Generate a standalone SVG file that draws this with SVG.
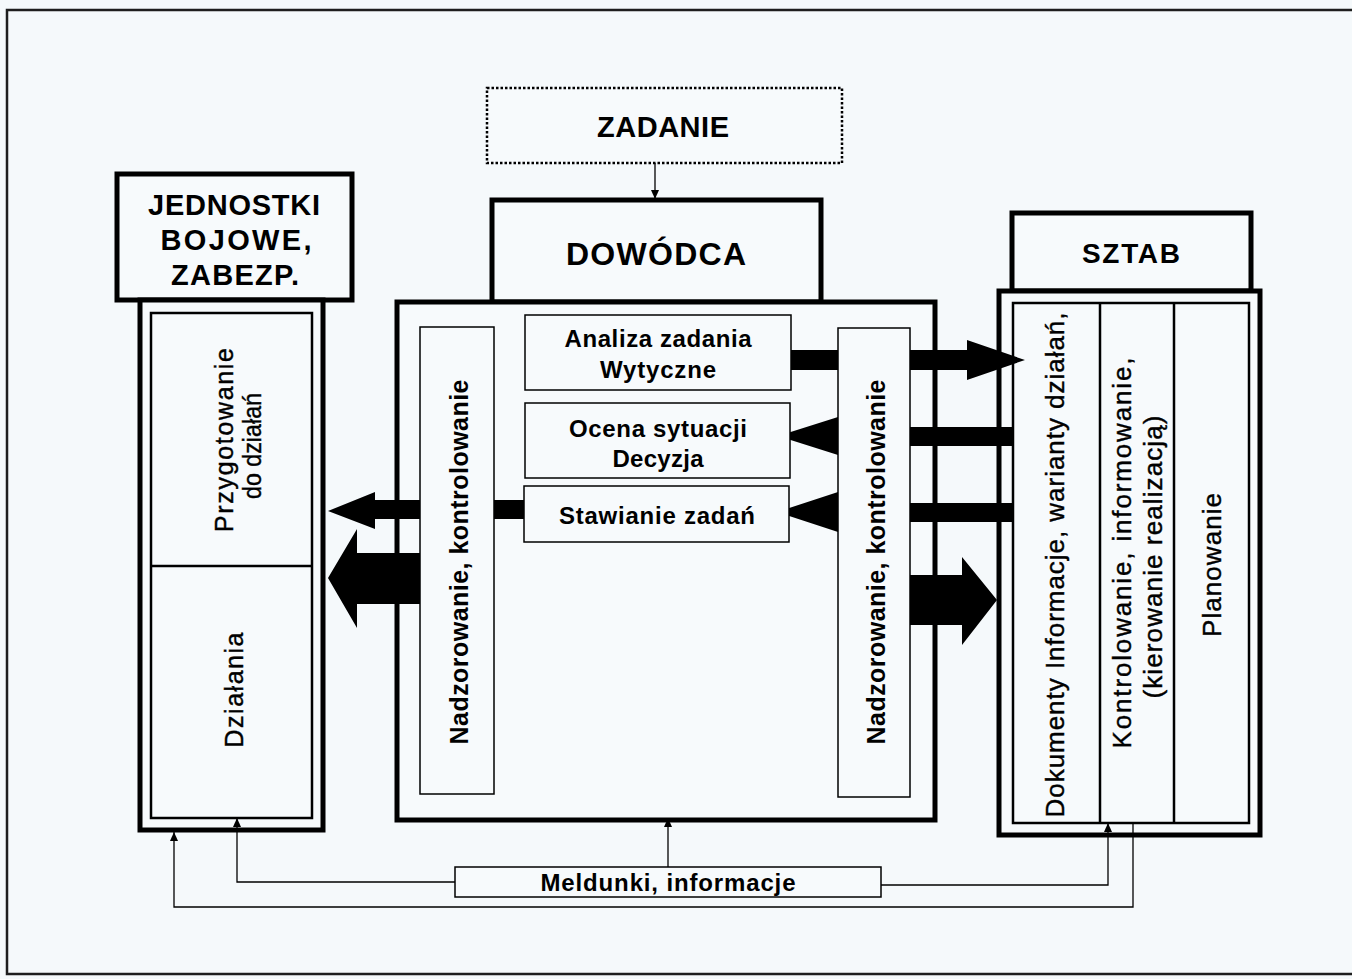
<svg xmlns="http://www.w3.org/2000/svg" width="1352" height="979" viewBox="0 0 1352 979">
  <style>
    .page { fill: #f5f9fb; }
    .frame { fill: none; stroke: #1e1e1e; stroke-width: 2.5; }
    .head { fill: #f7fafc; stroke: #000; stroke-width: 5; }
    .box { fill: #f7fafc; stroke: #000; stroke-width: 5; }
    .inner { fill: #f7fafc; stroke: #000; stroke-width: 2.5; }
    .thin { fill: #f7fafc; stroke: #000; stroke-width: 1.5; }
    .dotted { fill: #f7fafc; stroke: #000; stroke-width: 2.5; stroke-dasharray: 2.5 2; }
    .div { stroke: #000; stroke-width: 2.5; }
    .flow { fill: #000; }
    .wire { fill: none; stroke: #000; stroke-width: 1.3; }
    .t { font-family: "Liberation Sans", Arial, sans-serif; fill: #000; }
    .b { font-weight: bold; }
    .r { stroke: #000; stroke-width: 0.4; }
  </style>
  <defs>
    <marker id="tip" markerUnits="userSpaceOnUse" markerWidth="9" markerHeight="8" refX="9" refY="4" orient="auto">
      <path d="M0,0 L9,4 L0,8 Z" fill="#000"/>
    </marker>
  </defs>

  <!-- page and frame -->
  <rect class="page" x="0" y="0" width="1352" height="979"/>
  <rect class="frame" x="7" y="10" width="1360" height="964"/>

  <!-- task box -->
  <g id="zadanie">
    <rect class="dotted" x="487" y="88" width="355" height="75"/>
    <text class="t b" x="663" y="137" font-size="29" text-anchor="middle" textLength="132" lengthAdjust="spacing">ZADANIE</text>
  </g>

  <!-- combat units -->
  <g id="jednostki">
    <rect class="head" x="117" y="174" width="235" height="126"/>
    <text class="t b" x="234" y="215" font-size="29" text-anchor="middle" textLength="172" lengthAdjust="spacing">JEDNOSTKI</text>
    <text class="t b" x="236" y="250" font-size="29" text-anchor="middle" textLength="151" lengthAdjust="spacing">BOJOWE,</text>
    <text class="t b" x="235" y="285" font-size="29" text-anchor="middle" textLength="128" lengthAdjust="spacing">ZABEZP.</text>
    <rect class="box" x="140" y="300" width="183" height="530"/>
    <rect class="inner" x="151" y="313" width="161" height="505"/>
    <line class="div" x1="151" y1="566" x2="312" y2="566"/>
    <text class="t r" font-size="25" text-anchor="middle" dy="9" textLength="184" lengthAdjust="spacing" transform="translate(224,440) rotate(-90)">Przygotowanie</text>
    <text class="t r" font-size="25" text-anchor="middle" dy="9" textLength="106" lengthAdjust="spacingAndGlyphs" transform="translate(252,446) rotate(-90)">do działań</text>
    <text class="t r" font-size="25" text-anchor="middle" dy="9" textLength="115" lengthAdjust="spacing" transform="translate(234,690) rotate(-90)">Działania</text>
  </g>

  <!-- commander -->
  <g id="dowodca">
    <rect class="head" x="492" y="200" width="329" height="102"/>
    <text class="t b" x="656" y="265" font-size="32" text-anchor="middle" textLength="180" lengthAdjust="spacing">DOWÓDCA</text>
    <rect class="box" x="397" y="302" width="538" height="518"/>
  </g>

  <!-- staff -->
  <g id="sztab">
    <rect class="head" x="1012" y="213" width="239" height="78"/>
    <text class="t b" x="1131" y="263" font-size="28" text-anchor="middle" textLength="98" lengthAdjust="spacing">SZTAB</text>
    <rect class="box" x="999" y="291" width="261" height="544"/>
    <rect class="inner" x="1013" y="303" width="236" height="520"/>
    <line class="div" x1="1100" y1="303" x2="1100" y2="823"/>
    <line class="div" x1="1174" y1="303" x2="1174" y2="823"/>
    <text class="t r" font-size="26" text-anchor="middle" dy="9.5" textLength="505" lengthAdjust="spacing" transform="translate(1054,565) rotate(-90)">Dokumenty Informacje, warianty działań,</text>
    <text class="t r" font-size="26" text-anchor="middle" dy="9.5" textLength="391" lengthAdjust="spacing" transform="translate(1121,553) rotate(-90)">Kontrolowanie, informowanie,</text>
    <text class="t r" font-size="26" text-anchor="middle" dy="9.5" textLength="283" lengthAdjust="spacing" transform="translate(1152,557) rotate(-90)">(kierowanie realizacją)</text>
    <text class="t r" font-size="26" text-anchor="middle" dy="9.5" textLength="144" lengthAdjust="spacing" transform="translate(1211,565) rotate(-90)">Planowanie</text>
  </g>

  <!-- flows between commander, staff and units -->
  <g id="connectors">
    <polygon class="flow" points="791,350 967,350 967,340 1025,360 967,380 967,370 791,370"/>
    <polygon class="flow" points="1013,427 838,427 838,417 778,436 838,455 838,446 1013,446"/>
    <polygon class="flow" points="1013,503 838,503 838,492 777,512 838,532 838,522 1013,522"/>
    <polygon class="flow" points="905,575 962,575 962,557 997,600 962,645 962,625 905,625"/>
    <rect class="flow" x="490" y="500" width="36" height="19"/>
    <polygon class="flow" points="425,500 375,500 375,492 328,511 375,529 375,519 425,519"/>
    <polygon class="flow" points="425,553 357,553 357,529 328,578 357,628 357,604 425,604"/>

    <line class="wire" x1="655" y1="163" x2="655" y2="199" marker-end="url(#tip)"/>
    <line class="wire" x1="668" y1="867" x2="668" y2="818" marker-end="url(#tip)"/>
    <polyline class="wire" points="455,882 237,882 237,818" marker-end="url(#tip)"/>
    <polyline class="wire" points="881,885 1108,885 1108,823" marker-end="url(#tip)"/>
    <polyline class="wire" points="1133,823 1133,907 174,907 174,832" marker-end="url(#tip)"/>
  </g>

  <!-- supervision columns -->
  <g id="nadzor-lewy">
    <rect class="thin" x="420" y="327" width="74" height="467"/>
    <text class="t b" font-size="25" text-anchor="middle" dy="9" textLength="365" lengthAdjust="spacing" transform="translate(459,562) rotate(-90)">Nadzorowanie, kontrolowanie</text>
  </g>
  <g id="nadzor-prawy">
    <rect class="thin" x="838" y="328" width="72" height="469"/>
    <text class="t b" font-size="25" text-anchor="middle" dy="9" textLength="365" lengthAdjust="spacing" transform="translate(876,562) rotate(-90)">Nadzorowanie, kontrolowanie</text>
  </g>

  <!-- command steps -->
  <g id="analiza">
    <rect class="thin" x="525" y="315" width="266" height="75"/>
    <text class="t b" x="658" y="347" font-size="24" text-anchor="middle" textLength="187" lengthAdjust="spacing">Analiza zadania</text>
    <text class="t b" x="658" y="378" font-size="24" text-anchor="middle" textLength="116" lengthAdjust="spacing">Wytyczne</text>
  </g>
  <g id="ocena">
    <rect class="thin" x="525" y="403" width="265" height="75"/>
    <text class="t b" x="658" y="437" font-size="24" text-anchor="middle" textLength="178" lengthAdjust="spacing">Ocena sytuacji</text>
    <text class="t b" x="658" y="467" font-size="24" text-anchor="middle" textLength="91" lengthAdjust="spacing">Decyzja</text>
  </g>
  <g id="stawianie">
    <rect class="thin" x="524" y="486" width="265" height="56"/>
    <text class="t b" x="657" y="524" font-size="24" text-anchor="middle" textLength="196" lengthAdjust="spacing">Stawianie zadań</text>
  </g>

  <!-- reports -->
  <g id="meldunki">
    <rect class="thin" x="455" y="867" width="426" height="30"/>
    <text class="t b" x="668" y="891" font-size="24" text-anchor="middle" textLength="255" lengthAdjust="spacing">Meldunki, informacje</text>
  </g>
</svg>
